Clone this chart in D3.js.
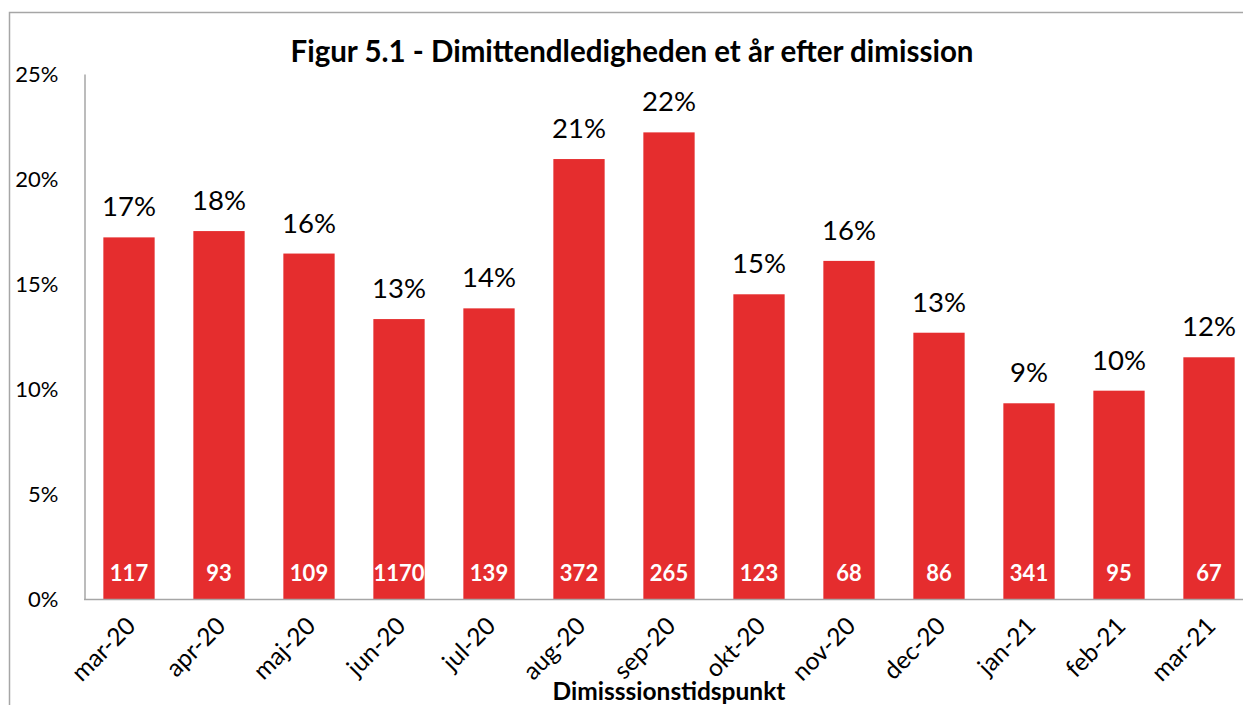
<!DOCTYPE html>
<html>
<head>
<meta charset="utf-8">
<script src="https://cdn.jsdelivr.net/npm/d3@7"></script>
<style>
  html, body { margin: 0; padding: 0; background: #fff; }
  svg text { font-family: Lato, "Open Sans", sans-serif; }
</style>
</head>
<body>
<div id="chart"></div>
<script>
// data
const categories = ["mar-20", "apr-20", "maj-20", "jun-20", "jul-20", "aug-20", "sep-20",
  "okt-20", "nov-20", "dec-20", "jan-21", "feb-21", "mar-21"];
const shares = [17.22, 17.52, 16.45, 13.33, 13.84, 20.95, 22.22, 14.51, 16.1, 12.68, 9.32, 9.92, 11.51];
const counts = [117, 93, 109, 1170, 139, 372, 265, 123, 68, 86, 341, 95, 67];
const yTicks = [0, 5, 10, 15, 20, 25];
const title = "Figur 5.1 - Dimittendledigheden et år efter dimission";
const xTitle = "Dimisssionstidspunkt";

const width = 1243, height = 705;
const barColor = "#e52d2e";
const lineColor = "#a6a6a6";

let svg = d3.select("#chart").append("svg")
  .attr("width", width)
  .attr("height", height);

// outer frame (runs off the right and bottom edges)
svg.append("path")
  .attr("d", "M9.5," + height + "V12.5H" + width)
  .attr("fill", "none")
  .attr("stroke", lineColor)
  .attr("stroke-width", 1.5);

let xScale = d3.scaleBand()
  .domain(categories)
  .range([84, 84 + 13 * 90])
  .paddingInner(0.43)
  .paddingOuter(0.215);

let yScale = d3.scaleLinear()
  .domain([0, 25])
  .range([599, 74]);

// title
svg.append("text")
  .attr("x", 632)
  .attr("y", 62)
  .attr("text-anchor", "middle")
  .style("font-size", "29.5px")
  .style("font-weight", "bold")
  .attr("fill", "#000")
  .text(title);

// y axis
let yAxis = d3.axisLeft(yScale)
  .tickValues(yTicks)
  .tickSize(0)
  .tickPadding(26)
  .tickFormat(d => d + "%");

let yg = svg.append("g")
  .attr("transform", "translate(84.5,0)")
  .call(yAxis);
yg.select(".domain").attr("stroke", lineColor).attr("stroke-width", 1.5);
yg.selectAll("text")
  .style("font-size", "22px")
  .attr("fill", "#000");

// bars
svg.append("g")
  .selectAll("rect")
  .data(shares)
  .enter()
  .append("rect")
  .attr("x", (d, i) => xScale(categories[i]))
  .attr("y", d => yScale(d))
  .attr("width", xScale.bandwidth())
  .attr("height", d => yScale(0) - yScale(d))
  .attr("fill", barColor);

// value labels above bars
svg.append("g")
  .selectAll("text")
  .data(shares)
  .enter()
  .append("text")
  .attr("x", (d, i) => xScale(categories[i]) + xScale.bandwidth() / 2)
  .attr("y", d => yScale(d) - 21)
  .attr("text-anchor", "middle")
  .style("font-size", "27.5px")
  .attr("fill", "#000")
  .text(d => Math.round(d) + "%");

// counts inside bars
svg.append("g")
  .selectAll("text")
  .data(counts)
  .enter()
  .append("text")
  .attr("x", (d, i) => xScale(categories[i]) + xScale.bandwidth() / 2)
  .attr("y", 581)
  .attr("text-anchor", "middle")
  .style("font-size", "22px")
  .style("font-weight", "bold")
  .attr("fill", "#fff")
  .text(d => d);

// x axis
let xAxis = d3.axisBottom(xScale)
  .tickSize(0)
  .tickPadding(0);

let xg = svg.append("g")
  .attr("transform", "translate(0,599.5)")
  .call(xAxis);
xg.select(".domain")
  .attr("d", "M84," + 0 + "H" + width)
  .attr("stroke", lineColor)
  .attr("stroke-width", 1.5);
xg.selectAll("text")
  .style("font-size", "24.5px")
  .attr("fill", "#000")
  .attr("text-anchor", "end")
  .attr("dy", 0)
  .attr("transform", "translate(8,28) rotate(-45)");

// x axis title
svg.append("text")
  .attr("x", 669)
  .attr("y", 700)
  .attr("text-anchor", "middle")
  .style("font-size", "24.5px")
  .style("font-weight", "bold")
  .attr("fill", "#000")
  .text(xTitle);
</script>
</body>
</html>
